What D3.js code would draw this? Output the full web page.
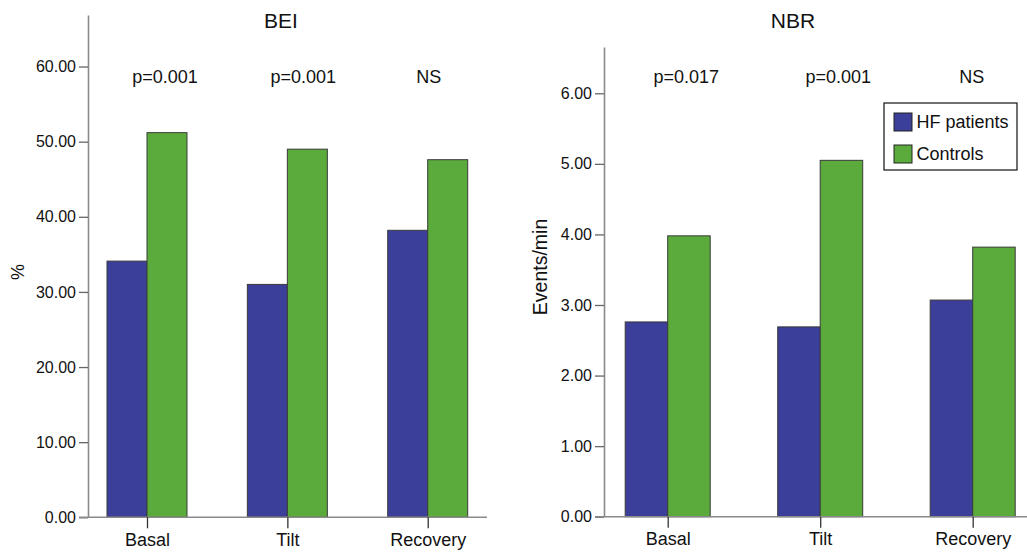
<!DOCTYPE html>
<html>
<head>
<meta charset="utf-8">
<script src="https://cdn.jsdelivr.net/npm/d3@7"></script>
<style>
  body { margin: 0; background: #fff; }
  svg { display: block; font-family: "Liberation Sans", Arial, Helvetica, sans-serif; }
</style>
</head>
<body>
<svg id="chart" width="1027" height="553"></svg>
<script>
// data
var categories = ["Basal", "Tilt", "Recovery"];
var groups = ["HF patients", "Controls"];

var beiHF = [34.1, 31.0, 38.2];
var beiControls = [51.2, 49.0, 47.6];
var beiP = ["p=0.001", "p=0.001", "NS"];

var nbrHF = [2.76, 2.69, 3.07];
var nbrControls = [3.98, 5.05, 3.82];
var nbrP = ["p=0.017", "p=0.001", "NS"];

var beiTicks = [0, 10, 20, 30, 40, 50, 60];
var nbrTicks = [0, 1, 2, 3, 4, 5, 6];

var colors = { "HF patients": "#3b3f99", "Controls": "#5bab3c" };

var svg = d3.select("#chart");

function drawPanel(cfg) {
    var g = svg.append("g");

    var y = d3.scaleLinear().domain([0, cfg.yMax]).range([cfg.bottom, cfg.top]);
    var x = d3.scalePoint().domain(categories).range(cfg.xRange);
    var xInner = d3.scaleBand().domain(groups).range([-cfg.barW, cfg.barW]);

    var rows = categories.map(function(c, i) {
        return { cat: c, vals: [cfg.hf[i], cfg.ctrl[i]], p: cfg.p[i], dx: cfg.pdx[i] };
    });

    // bars
    var cat = g.selectAll(".cat")
        .data(rows)
        .enter().append("g")
        .attr("class", "cat")
        .attr("transform", function(d) { return "translate(" + x(d.cat) + ",0)"; });

    cat.selectAll("rect")
        .data(function(d) { return groups.map(function(k, j) { return { key: k, v: d.vals[j] }; }); })
        .enter().append("rect")
        .attr("x", function(d) { return xInner(d.key); })
        .attr("width", xInner.bandwidth())
        .attr("y", function(d) { return y(d.v); })
        .attr("height", function(d) { return y(0) - y(d.v); })
        .attr("fill", function(d) { return colors[d.key]; })
        .attr("stroke", "#3a3a3a")
        .attr("stroke-width", 1);

    // y axis
    var yAxis = g.append("g")
        .attr("transform", "translate(" + cfg.axisX + ",0)")
        .call(d3.axisLeft(y).tickValues(cfg.ticks).tickFormat(d3.format(".2f"))
            .tickSize(9).tickPadding(3).tickSizeOuter(0));
    yAxis.select(".domain").attr("stroke", "#8a8a8a").attr("stroke-width", 1.6);
    yAxis.selectAll(".tick line").attr("stroke", "#666").attr("stroke-width", 1.3);
    yAxis.selectAll(".tick text").attr("font-size", 16).attr("fill", "#111")
        .attr("font-family", "Liberation Sans, Arial, sans-serif");

    // x baseline
    g.append("line")
        .attr("x1", cfg.axisX - 9).attr("x2", cfg.xEnd)
        .attr("y1", y(0)).attr("y2", y(0))
        .attr("stroke", "#8a8a8a").attr("stroke-width", 1.6);

    // x axis ticks + labels
    var xAxis = g.append("g")
        .attr("transform", "translate(0," + y(0) + ")")
        .call(d3.axisBottom(x).tickSize(11).tickPadding(5).tickSizeOuter(0));
    xAxis.select(".domain").remove();
    xAxis.selectAll(".tick line").attr("stroke", "#333").attr("stroke-width", 1.3);
    xAxis.selectAll(".tick text").attr("font-size", 18).attr("fill", "#111")
        .attr("font-family", "Liberation Sans, Arial, sans-serif");

    // p values
    g.selectAll(".pval")
        .data(rows)
        .enter().append("text")
        .attr("class", "pval")
        .attr("x", function(d) { return x(d.cat) + d.dx; })
        .attr("y", 83)
        .attr("text-anchor", "middle")
        .attr("font-size", 18)
        .attr("fill", "#111")
        .text(function(d) { return d.p; });

    // title
    g.append("text")
        .attr("x", cfg.titleX).attr("y", 28)
        .attr("text-anchor", "middle")
        .attr("font-size", 21)
        .attr("fill", "#111")
        .text(cfg.title);

    // y label
    g.append("text")
        .attr("transform", "translate(" + cfg.labelPos[0] + "," + cfg.labelPos[1] + ") rotate(-90)")
        .attr("text-anchor", "middle")
        .attr("dominant-baseline", "central")
        .attr("font-size", cfg.labelSize)
        .attr("fill", "#111")
        .text(cfg.yLabel);

    return g;
}

drawPanel({
    title: "BEI", titleX: 281, yLabel: "%", labelPos: [18, 272], labelSize: 18,
    hf: beiHF, ctrl: beiControls, p: beiP, pdx: [18, 16, 1],
    ticks: beiTicks, yMax: 66.86, bottom: 517.3, top: 15,
    xRange: [147, 427.7], barW: 40, axisX: 88, xEnd: 487
});

var right = drawPanel({
    title: "NBR", titleX: 793, yLabel: "Events/min", labelPos: [540, 267], labelSize: 19.5,
    hf: nbrHF, ctrl: nbrControls, p: nbrP, pdx: [18.5, 18, -1],
    ticks: nbrTicks, yMax: 6.656, bottom: 516.7, top: 47,
    xRange: [667.7, 972.7], barW: 42.5, axisX: 604, xEnd: 1027
});

// legend
var legend = right.append("g").attr("transform", "translate(884,103)");
legend.append("rect")
    .attr("width", 133).attr("height", 67)
    .attr("fill", "#fff").attr("stroke", "#111").attr("stroke-width", 1.2);
var item = legend.selectAll(".item")
    .data(groups)
    .enter().append("g")
    .attr("class", "item")
    .attr("transform", function(d, i) { return "translate(10," + (10 + i * 32) + ")"; });
item.append("rect")
    .attr("width", 18).attr("height", 18)
    .attr("fill", function(d) { return colors[d]; })
    .attr("stroke", "#222").attr("stroke-width", 1);
item.append("text")
    .attr("x", 22.5).attr("y", 9)
    .attr("dominant-baseline", "central")
    .attr("font-size", 18)
    .attr("fill", "#111")
    .text(function(d) { return d; });
</script>
</body>
</html>
